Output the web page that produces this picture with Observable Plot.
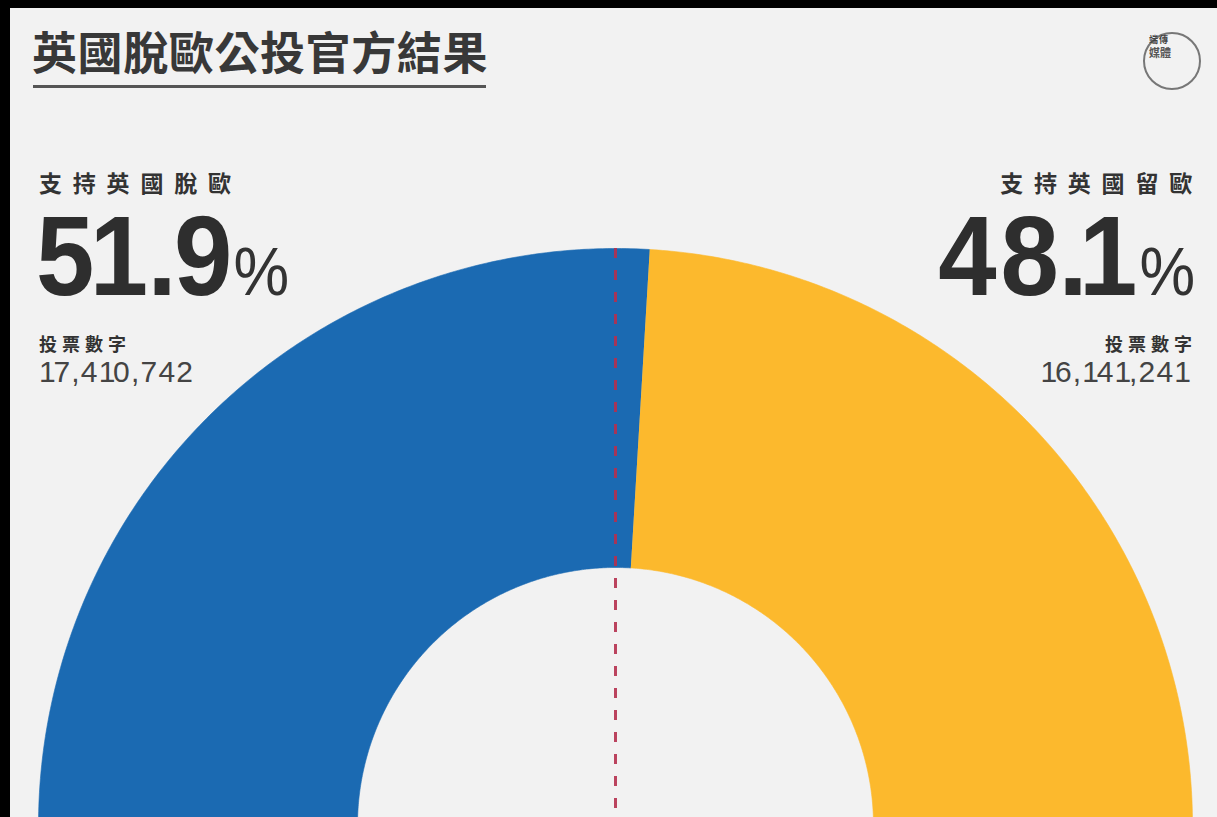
<!DOCTYPE html>
<html>
<head>
<meta charset="utf-8">
<script src="https://cdn.jsdelivr.net/npm/d3@7"></script>
<script src="https://cdn.jsdelivr.net/npm/@observablehq/plot@0.6"></script>
<style>
  html, body { margin: 0; padding: 0; background: #000; width: 1217px; height: 817px; overflow: hidden; }
  #frame { position: absolute; left: 10px; top: 8px; width: 1207px; height: 809px; background: #f2f2f2; overflow: hidden; }
  #chart { position: absolute; left: 0; top: 0; }
  .cjk { font-family: "Noto Sans CJK TC", "Noto Sans CJK SC", sans-serif; }
  .lat { font-family: "Liberation Sans", Arial, sans-serif; }
  .abs { position: absolute; line-height: 1; white-space: nowrap; color: #333; }
  #title { left: 22px; top: 20px; font-size: 45px; font-weight: 700; color: #383838; letter-spacing: 0.6px; }
  #rule { position: absolute; left: 23px; top: 77px; width: 453px; height: 3px; background: #555; }
  #logo { position: absolute; left: 1133px; top: 24px; width: 54px; height: 54px; border: 2px solid #777; border-radius: 50%; }
  .logo1 { left: 1139px; top: 27px; font-size: 9px; font-weight: 700; color: #444; letter-spacing: 1px; }
  .logo2 { left: 1139px; top: 39px; font-size: 11px; font-weight: 700; color: #555; }
  .side { font-size: 23px; font-weight: 700; letter-spacing: 10.8px; color: #333; }
  .big { font-size: 114px; font-weight: 700; color: #2e2e2e; }
  .pct { font-size: 68px; font-weight: 400; color: #333; }
  .small { font-size: 18px; font-weight: 700; letter-spacing: 5px; color: #333; }
  .num { font-size: 30px; font-weight: 400; color: #444; }
</style>
</head>
<body>
<div id="frame">
  <div id="chart"></div>
  <div id="title" class="abs cjk"></div>
  <div id="rule"></div>
  <div id="logo"></div>
</div>
<script>
// ---- data ----
const options = ["脫歐", "留歐"];
const sideLabels = ["支持英國脫歐", "支持英國留歐"];
const votes = [17410742, 16141241];
const shares = [51.9, 48.1];
const colors = ["#1b6ab2", "#fcb92d"];
const titleText = "英國脫歐公投官方結果";
const votesLabel = "投票數字";
const logoLines = ["端傳", "媒體"];

// ---- layout constants (pixels) ----
const W = 1207, H = 809;
const cx = 605, cy = 817, R = 577, r0 = 258;

document.getElementById("title").textContent = titleText;

// half-donut slices from the vote counts
const pie = d3.pie().sort(null).startAngle(-Math.PI / 2).endAngle(Math.PI / 2)(votes);
const pts = [];
const inner = r0 / R;
pie.forEach((p, i) => {
  const n = 200;
  for (let k = 0; k <= n; k++) {
    const a = p.startAngle + (p.endAngle - p.startAngle) * k / n;
    pts.push({name: options[i], x: Math.sin(a), y: Math.cos(a)});
  }
  for (let k = n; k >= 0; k--) {
    const a = p.startAngle + (p.endAngle - p.startAngle) * k / n;
    pts.push({name: options[i], x: inner * Math.sin(a), y: inner * Math.cos(a)});
  }
});

const chart = Plot.plot({
  width: W,
  height: H,
  margin: 0,
  x: {domain: [-cx / R, (W - cx) / R], axis: null},
  y: {domain: [(cy - H) / R, cy / R], axis: null},
  color: {domain: options, range: colors},
  style: {background: "transparent", overflow: "visible"},
  marks: [
    Plot.line(pts, {x: "x", y: "y", z: "name", fill: "name", stroke: "name", strokeWidth: 0.6}),
    Plot.ruleX([0], {y1: 1, y2: -0.05, stroke: "#b5304e", strokeWidth: 3, strokeDasharray: "10,12", strokeOpacity: 0.9})
  ]
});
document.getElementById("chart").appendChild(chart);

// labels built from the data
const frame = document.getElementById("frame");
function add(cls, html, style) {
  const d = document.createElement("div");
  d.className = "abs " + cls;
  d.innerHTML = html;
  Object.assign(d.style, style);
  frame.appendChild(d);
  return d;
}
function tracked(text, rule) {
  const chars = [...text];
  return chars.map((c, i) => {
    const ls = rule(c, chars[i + 1]);
    return `<span style="letter-spacing:${ls}px">${c}</span>`;
  }).join("");
}
const numRule = (c, next) => next === undefined ? 0 : (c === "1" ? -2.3 : 1.2);
const fmt = d3.format(",");

// big percentage: tight, slightly condensed figures, measured from rasterised glyph ink
const SX = 0.92;
const cv = document.createElement("canvas");
cv.width = 400; cv.height = 220;
const ctx = cv.getContext("2d", {willReadFrequently: true});
const BIG = "700 114px 'Liberation Sans', Arial, sans-serif";
const PCT = "400 68px 'Liberation Sans', Arial, sans-serif";
function ink(c, font) {
  ctx.clearRect(0, 0, cv.width, cv.height);
  ctx.font = font;
  ctx.textBaseline = "alphabetic";
  ctx.fillStyle = "#000";
  const ox = 100;
  ctx.fillText(c, ox, 170);
  const data = ctx.getImageData(0, 0, cv.width, cv.height).data;
  let minX = Infinity, maxX = -Infinity;
  for (let y = 0; y < cv.height; y++) {
    for (let x = 0; x < cv.width; x++) {
      if (data[(y * cv.width + x) * 4 + 3] > 100) {
        if (x < minX) minX = x;
        if (x > maxX) maxX = x;
      }
    }
  }
  const w = ctx.measureText(c).width;
  if (!isFinite(minX)) return {l: 0, r: w, w};
  return {l: minX - ox, r: maxX + 1 - ox, w};
}
function inkGap(c, next) {
  if (next === "%") return 7;
  if (next === ".") return 10;
  if (c === ".") return next === "1" ? 5 : 8;
  if (next === "1") return 5;
  return 8;
}
function bigBlock(v) {
  const chars = [...(v.toFixed(1) + "%")];
  const m = chars.map(c => ink(c, c === "%" ? PCT : BIG));
  const html = chars.map((c, i) => {
    if (i === chars.length - 1) return `<span class="pct">${c}</span>`;
    const a = m[i], b = m[i + 1];
    const natural = (a.w - a.r) + b.l;
    return `<span style="letter-spacing:${(inkGap(c, chars[i + 1]) / SX - natural).toFixed(2)}px">${c}</span>`;
  }).join("");
  return {html, first: m[0], last: m[m.length - 1]};
}

add("cjk logo1", logoLines[0], {});
add("cjk logo2", logoLines[1], {});
// left (leave)
const bL = bigBlock(shares[0]);
add("cjk side", sideLabels[0], {left: "29px", top: "163px"});
add("lat big", bL.html, {left: (30 - bL.first.l * SX) + "px", top: "191px",
  transform: `scaleX(${SX})`, transformOrigin: "left top"});
add("cjk small", votesLabel, {left: "29px", top: "326px"});
add("lat num", tracked(fmt(votes[0]), numRule), {left: "29px", top: "349px"});
// right (remain)
const bR = bigBlock(shares[1]);
add("cjk side", sideLabels[1], {right: "14px", top: "163px"});
add("lat big", bR.html, {right: (W - 1183 - (bR.last.w - bR.last.r) * SX) + "px", top: "191px",
  transform: `scaleX(${SX})`, transformOrigin: "right top"});
add("cjk small", votesLabel, {right: "20px", top: "326px"});
add("lat num", tracked(fmt(votes[1]), numRule), {right: "26px", top: "349px"});
</script>
</body>
</html>
